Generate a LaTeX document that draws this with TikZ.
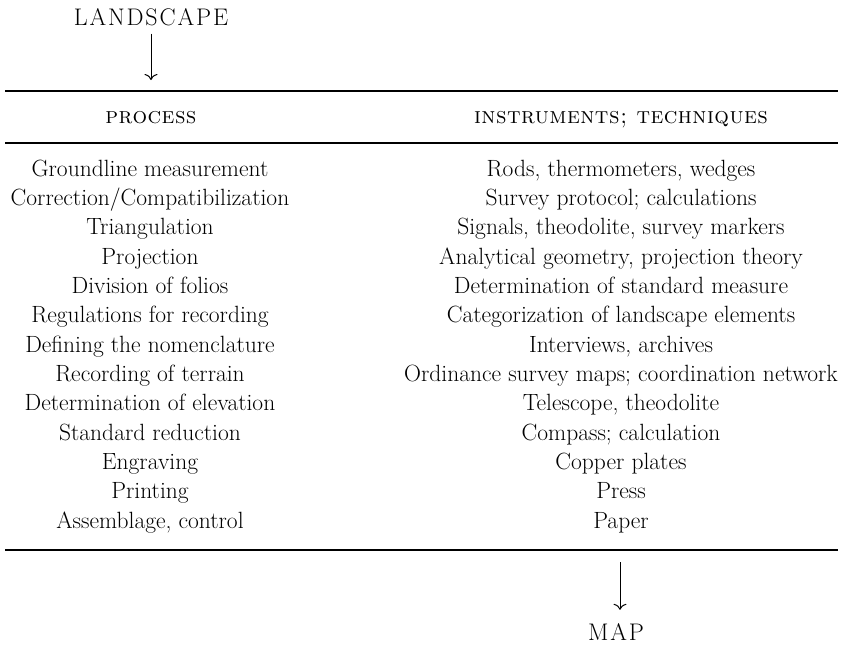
\documentclass[tikz,border=0pt]{standalone}
\usepackage{fontspec}
\setmainfont{lmroman17-regular.otf}[
  BoldFont=lmroman10-bold.otf,
  ItalicFont=lmroman10-italic.otf,
  SmallCapsFont=lmromancaps10-regular.otf]
\usetikzlibrary{arrows.meta}
\begin{document}
\begin{tikzpicture}[x=1pt,y=-1pt,
  titletext/.style={font=\fontsize{24}{28}\selectfont\addfontfeatures{LetterSpace=8}, inner sep=0, anchor=base},
  headtext/.style={font=\fontsize{23}{26}\selectfont\scshape\addfontfeatures{LetterSpace=2}, inner sep=0, anchor=base},
  celltext/.style={font=\fontsize{23.5}{28}\selectfont, inner sep=0, anchor=base},
  rulerline/.style={line width=1.6pt},
  flowarrow/.style={-{To[length=6pt,width=13pt]}, line width=1pt}]
\useasboundingbox (0,0) rectangle (847,646);
% rules
\draw[rulerline] (5,91) -- (838,91);
\draw[rulerline] (5,143) -- (838,143);
\draw[rulerline] (5,550) -- (838,550);
% titles
\node[titletext] (landscape) at (151,25) {LANDSCAPE};
\node[titletext] (map) at (616,640) {MAP};
\coordinate (topend) at (151,80);
\coordinate (botstart) at (620,562);
\draw[flowarrow] ([yshift=-8pt]landscape.south) -- (topend);
\draw[flowarrow] (botstart) -- ([yshift=13pt]map.north -| botstart);
% headers
\node[headtext] (hproc) at (151,123) {process};
\node[headtext] (hinst) at (621,123) {instruments; techniques};
% rows
\foreach \i/\p/\t in {
 0/{Groundline measurement}/{Rods, thermometers, wedges},
 1/{Correction/Compatibilization}/{Survey protocol; calculations},
 2/{Triangulation}/{Signals, theodolite, survey markers},
 3/{Projection}/{Analytical geometry, projection theory},
 4/{Division of folios}/{Determination of standard measure},
 5/{Regulations for recording}/{Categorization of landscape elements},
 6/{Defining the nomenclature}/{Interviews, archives},
 7/{Recording of terrain}/{Ordinance survey maps; coordination network},
 8/{Determination of elevation}/{Telescope, theodolite},
 9/{Standard reduction}/{Compass; calculation},
 10/{Engraving}/{Copper plates},
 11/{Printing}/{Press},
 12/{Assemblage, control}/{Paper}}{
  \node[celltext] (p\i) at (150,176+29.35*\i) {\p};
  \node[celltext] (t\i) at (621,176+29.35*\i) {\t};
}
\end{tikzpicture}
\end{document}
